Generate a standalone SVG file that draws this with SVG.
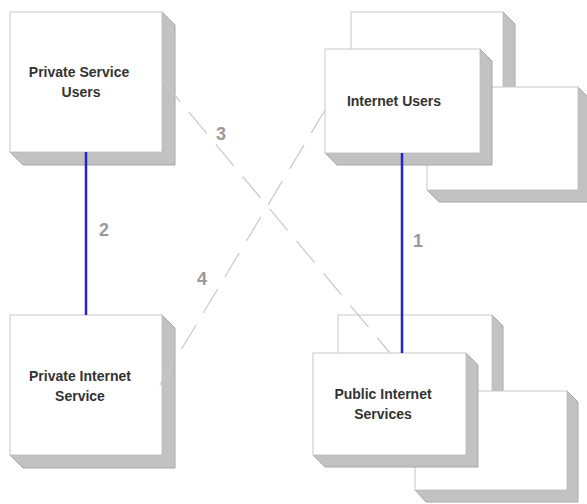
<svg xmlns="http://www.w3.org/2000/svg" width="587" height="504" viewBox="0 0 587 504">
<style>
.face{fill:#ffffff;stroke:#c8c8c8;stroke-width:1}
.side{fill:#c2c2c2;stroke:#a8a8a8;stroke-width:1}
.lbl{font-family:"Liberation Sans",Arial,sans-serif;font-weight:bold;font-size:14px;fill:#333;text-anchor:middle}
.num{font-family:"Liberation Sans",Arial,sans-serif;font-weight:bold;font-size:18px;fill:#9a9a9a;text-anchor:middle}
.dash{stroke:#c8c8c8;stroke-width:1.2;stroke-dasharray:28 14;fill:none}
.solid{stroke:#2323d2;stroke-width:2.5;fill:none}
</style>
<rect width="587" height="504" fill="#ffffff"/>
<g id="private-service-users">
<polygon class="side" points="162,12 175,25 175,165 23,165 10,152 162,152"/>
<rect class="face" x="10" y="12" width="152" height="140"/>
<text class="lbl" x="79" y="77">Private Service</text>
<text class="lbl" x="81" y="97">Users</text>
</g>
<g id="private-internet-service">
<polygon class="side" points="162,315 175,328 175,468 23,468 10,455 162,455"/>
<rect class="face" x="10" y="315" width="152" height="140"/>
<text class="lbl" x="80" y="381">Private Internet</text>
<text class="lbl" x="80" y="401">Service</text>
</g>
<g id="internet-users">
<polygon class="side" points="503,12 515,24 515,128 363,128 351,116 503,116"/>
<rect class="face" x="351" y="12" width="152" height="104"/>
<polygon class="side" points="578,87 590,99 590,202 439,202 427,190 578,190"/>
<rect class="face" x="427" y="87" width="151" height="103"/>
<polygon class="side" points="480,49 492,61 492,165 337,165 325,153 480,153"/>
<rect class="face" x="325" y="49" width="155" height="104"/>
<text class="lbl" x="394" y="106">Internet Users</text>
</g>
<g id="public-internet-services">
<polygon class="side" points="492,315 503,326 503,428 349,428 338,417 492,417"/>
<rect class="face" x="338" y="315" width="154" height="102"/>
<polygon class="side" points="567,391 578,402 578,502 426,502 415,490 567,490"/>
<rect class="face" x="415" y="391" width="152" height="99"/>
<polygon class="side" points="466,353 478,365 478,467 325,467 313,455 466,455"/>
<rect class="face" x="313" y="353" width="153" height="102"/>
<text class="lbl" x="383" y="399">Public Internet</text>
<text class="lbl" x="383" y="419">Services</text>
</g>
<g id="connectors">
<line class="dash" x1="162" y1="80" x2="390" y2="353"/>
<line class="dash" x1="160" y1="385" x2="325" y2="110"/>
<line class="solid" x1="86" y1="152" x2="86" y2="315"/>
<line class="solid" x1="402" y1="153" x2="402" y2="353"/>
<text class="num" x="221" y="140">3</text>
<text class="num" x="104" y="236">2</text>
<text class="num" x="418" y="247">1</text>
<text class="num" x="202" y="285">4</text>
</g>
</svg>
